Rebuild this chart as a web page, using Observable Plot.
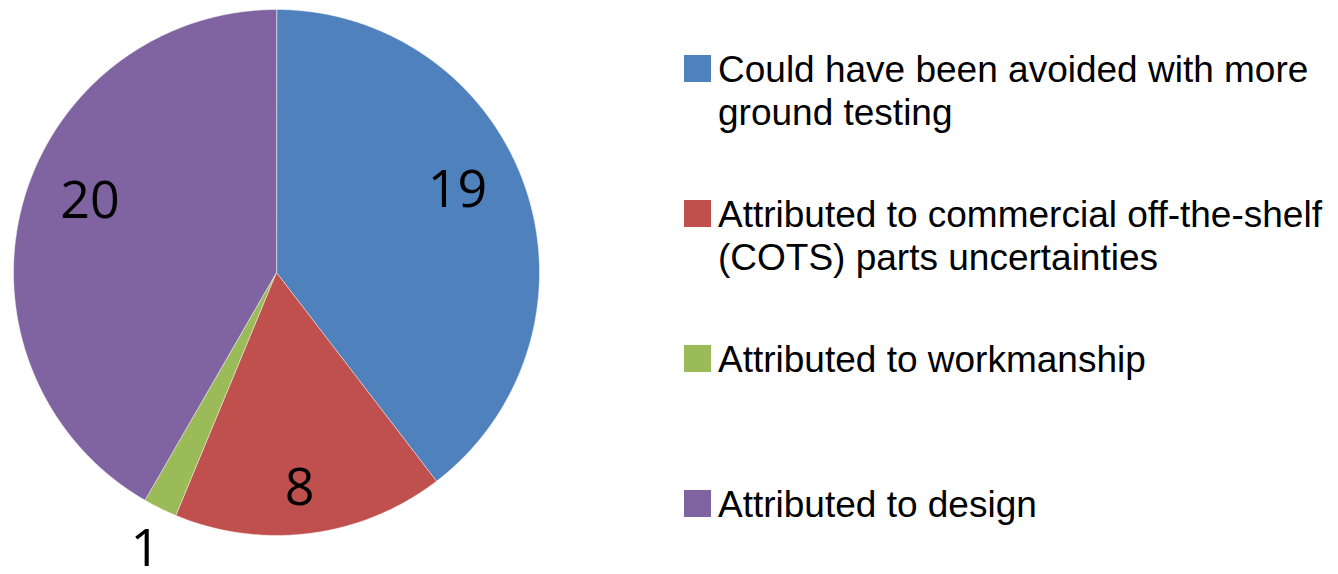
<!DOCTYPE html>
<html><head><meta charset="utf-8">
<script src="https://cdn.jsdelivr.net/npm/d3@7"></script>
<script src="https://cdn.jsdelivr.net/npm/@observablehq/plot@0.6"></script>
<style>
body{margin:0;background:#fff;}
#wrap{position:relative;width:1338px;height:574px;overflow:hidden;}
#chart{position:absolute;left:0;top:0;}
#legend{position:absolute;left:684px;top:0;font-family:"Liberation Sans",Arial,sans-serif;font-size:37px;color:#000;}
.item{position:absolute;left:0;display:flex;align-items:flex-start;width:654px;}
.sw{width:27px;height:27px;flex:none;margin-right:7px;margin-top:7px;}
.lbl{line-height:43px;}
</style></head>
<body>
<div id="wrap"><div id="chart"></div><div id="legend"></div></div>
<script>
const categories = [
  "Could have been avoided with more ground testing",
  "Attributed to commercial off-the-shelf (COTS) parts uncertainties",
  "Attributed to workmanship",
  "Attributed to design"
];
const values = [19, 8, 1, 20];
const colors = ["#4F81BD", "#C0504D", "#9BBB59", "#8064A2"];

// label placement (style): radius as fraction of pie radius, angular nudge in degrees
const labelRadius = [0.755, 0.825, 1.165, 0.76];
const labelNudge = [-5.6, 1.4, -0.9, 6];

const data = categories.map((c, i) => ({category: c, value: values[i]}));
const slices = d3.pie().sort(null).value(d => d.value)(data);

const pts = [];
slices.forEach(s => {
  const c = s.data.category;
  const n = Math.max(2, Math.ceil((s.endAngle - s.startAngle) / (Math.PI / 360)));
  pts.push({category: c, x: 0, y: 0});
  for (let k = 0; k <= n; k++) {
    const a = s.startAngle + (s.endAngle - s.startAngle) * k / n;
    pts.push({category: c, x: Math.sin(a), y: Math.cos(a)});
  }
});

const labels = slices.map((s, i) => {
  const a = (s.startAngle + s.endAngle) / 2 + labelNudge[i] * Math.PI / 180;
  return {value: s.data.value, x: labelRadius[i] * Math.sin(a), y: labelRadius[i] * Math.cos(a)};
});

const chart = Plot.plot({
  width: 560,
  height: 574,
  marginLeft: 13,
  marginRight: 21,
  marginTop: 9,
  marginBottom: 39,
  x: {domain: [-1, 1], axis: null},
  y: {domain: [-1, 1], axis: null},
  color: {domain: categories, range: colors},
  style: {background: "white", overflow: "visible"},
  marks: [
    Plot.line(pts, {x: "x", y: "y", z: "category", fill: "category", stroke: "white", strokeWidth: 0.6, strokeOpacity: 0.8, curve: "linear-closed"}),
    Plot.text(labels, {x: "x", y: "y", text: d => String(d.value), fontSize: 52, fontFamily: "'Open Sans', sans-serif", fill: "black", textAnchor: "middle", lineAnchor: "middle"})
  ]
});
document.getElementById("chart").appendChild(chart);

const legend = document.getElementById("legend");
categories.forEach((c, i) => {
  const item = document.createElement("div");
  item.className = "item";
  item.style.top = (48 + 145 * i) + "px";
  const sw = document.createElement("div");
  sw.className = "sw";
  sw.style.background = colors[i];
  const lbl = document.createElement("div");
  lbl.className = "lbl";
  lbl.textContent = c;
  item.appendChild(sw);
  item.appendChild(lbl);
  legend.appendChild(item);
});
</script>
</body></html>
